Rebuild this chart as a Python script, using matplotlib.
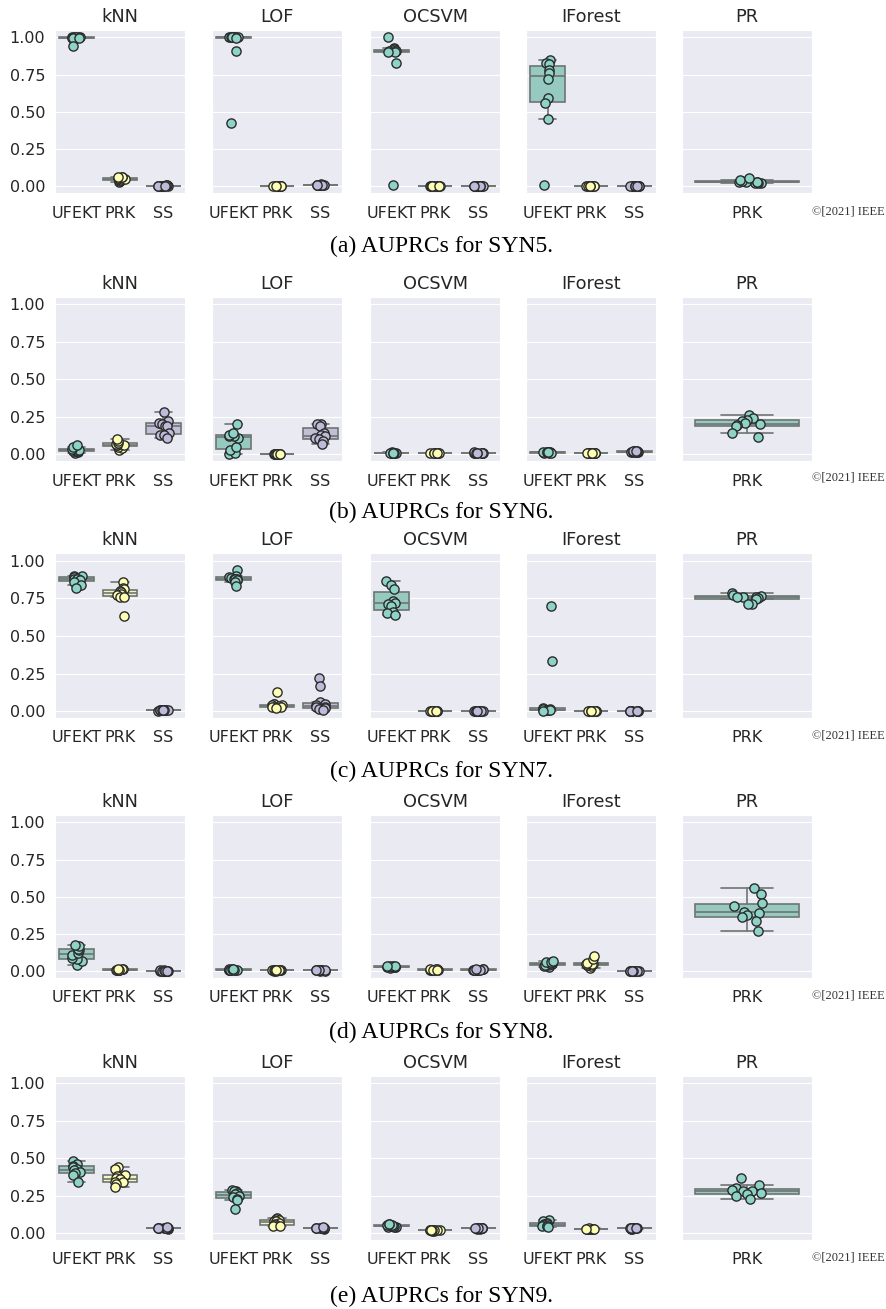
import numpy as np
import matplotlib
matplotlib.use("Agg")
import matplotlib.pyplot as plt
import seaborn as sns

sns.set_style("darkgrid")
plt.rcParams["font.family"] = ["DejaVu Sans"]

METHODS = ["UFEKT", "PRK", "SS"]
DETECTORS = ["kNN", "LOF", "OCSVM", "IForest"]
DATASETS = ["SYN5", "SYN6", "SYN7", "SYN8", "SYN9"]
LETTERS = ["a", "b", "c", "d", "e"]
YTICKS = [0.0, 0.25, 0.5, 0.75, 1.0]

# ---- SYN5 ----
SYN5_KNN = {"UFEKT": [1.0, 1.0, 1.0, 1.0, 0.999, 0.998, 1.0, 0.997, 0.995, 0.944],
            "PRK": [0.03, 0.035, 0.04, 0.045, 0.05, 0.05, 0.055, 0.06, 0.06, 0.065],
            "SS": [0.003, 0.004, 0.005, 0.005, 0.006, 0.004, 0.005, 0.006, 0.005, 0.004]}
SYN5_LOF = {"UFEKT": [1.0, 1.0, 1.0, 1.0, 1.0, 1.0, 1.0, 0.999, 0.906, 0.425],
            "PRK": [0.002, 0.003, 0.002, 0.003, 0.004, 0.002, 0.003, 0.002, 0.003, 0.004],
            "SS": [0.008, 0.01, 0.012, 0.01, 0.009, 0.011, 0.013, 0.01, 0.008, 0.012]}
SYN5_OCSVM = {"UFEKT": [1.0, 0.93, 0.92, 0.915, 0.91, 0.91, 0.905, 0.90, 0.83, 0.01],
              "PRK": [0.001, 0.002, 0.002, 0.003, 0.002, 0.001, 0.002, 0.003, 0.002, 0.002],
              "SS": [0.002, 0.003, 0.003, 0.004, 0.003, 0.002, 0.003, 0.004, 0.003, 0.003]}
SYN5_IFOREST = {"UFEKT": [0.85, 0.83, 0.82, 0.78, 0.76, 0.72, 0.59, 0.56, 0.45, 0.01],
                "PRK": [0.001, 0.002, 0.002, 0.003, 0.002, 0.001, 0.002, 0.003, 0.002, 0.002],
                "SS": [0.002, 0.003, 0.003, 0.004, 0.003, 0.002, 0.003, 0.004, 0.003, 0.003]}
SYN5_PR = [0.02, 0.022, 0.025, 0.028, 0.03, 0.03, 0.032, 0.035, 0.04, 0.055]

# ---- SYN6 ----
SYN6_KNN = {"UFEKT": [0.01, 0.015, 0.02, 0.02, 0.025, 0.03, 0.03, 0.035, 0.05, 0.06],
            "PRK": [0.03, 0.04, 0.05, 0.06, 0.06, 0.065, 0.07, 0.075, 0.09, 0.10],
            "SS": [0.28, 0.22, 0.21, 0.20, 0.19, 0.19, 0.14, 0.13, 0.13, 0.11]}
SYN6_LOF = {"UFEKT": [0.005, 0.008, 0.03, 0.05, 0.11, 0.12, 0.12, 0.13, 0.14, 0.20],
            "PRK": [0.002, 0.003, 0.003, 0.004, 0.003, 0.002, 0.003, 0.004, 0.003, 0.003],
            "SS": [0.20, 0.20, 0.19, 0.14, 0.13, 0.12, 0.11, 0.10, 0.09, 0.07]}
SYN6_OCSVM = {"UFEKT": [0.008, 0.009, 0.01, 0.01, 0.011, 0.012, 0.01, 0.009, 0.011, 0.01],
              "PRK": [0.008, 0.009, 0.01, 0.01, 0.011, 0.01, 0.009, 0.01, 0.011, 0.01],
              "SS": [0.008, 0.009, 0.01, 0.01, 0.011, 0.012, 0.01, 0.009, 0.011, 0.01]}
SYN6_IFOREST = {"UFEKT": [0.01, 0.011, 0.012, 0.012, 0.013, 0.012, 0.011, 0.013, 0.012, 0.012],
                "PRK": [0.006, 0.007, 0.008, 0.008, 0.009, 0.008, 0.007, 0.009, 0.008, 0.008],
                "SS": [0.012, 0.014, 0.016, 0.018, 0.02, 0.022, 0.015, 0.017, 0.019, 0.025]}
SYN6_PR = [0.265, 0.24, 0.23, 0.22, 0.21, 0.20, 0.195, 0.19, 0.14, 0.115]

# ---- SYN7 ----
SYN7_KNN = {"UFEKT": [0.90, 0.90, 0.89, 0.88, 0.88, 0.875, 0.87, 0.86, 0.84, 0.82],
            "PRK": [0.86, 0.82, 0.81, 0.80, 0.79, 0.78, 0.77, 0.76, 0.755, 0.63],
            "SS": [0.004, 0.005, 0.006, 0.006, 0.007, 0.005, 0.006, 0.007, 0.006, 0.005]}
SYN7_LOF = {"UFEKT": [0.94, 0.90, 0.89, 0.885, 0.88, 0.88, 0.875, 0.87, 0.86, 0.83],
            "PRK": [0.13, 0.05, 0.045, 0.04, 0.04, 0.035, 0.03, 0.03, 0.025, 0.02],
            "SS": [0.22, 0.17, 0.06, 0.05, 0.04, 0.03, 0.025, 0.02, 0.015, 0.01]}
SYN7_OCSVM = {"UFEKT": [0.865, 0.84, 0.81, 0.73, 0.72, 0.71, 0.70, 0.66, 0.65, 0.64],
              "PRK": [0.002, 0.003, 0.003, 0.004, 0.003, 0.002, 0.003, 0.004, 0.003, 0.003],
              "SS": [0.002, 0.003, 0.003, 0.004, 0.003, 0.002, 0.003, 0.004, 0.003, 0.003]}
SYN7_IFOREST = {"UFEKT": [0.70, 0.33, 0.02, 0.015, 0.012, 0.01, 0.008, 0.006, 0.005, 0.004],
                "PRK": [0.002, 0.003, 0.003, 0.004, 0.003, 0.002, 0.003, 0.004, 0.003, 0.003],
                "SS": [0.002, 0.003, 0.003, 0.004, 0.003, 0.002, 0.003, 0.004, 0.003, 0.003]}
SYN7_PR = [0.784, 0.77, 0.765, 0.76, 0.76, 0.755, 0.75, 0.745, 0.71, 0.71]

# ---- SYN8 ----
SYN8_KNN = {"UFEKT": [0.04, 0.07, 0.08, 0.09, 0.11, 0.125, 0.14, 0.15, 0.17, 0.18],
            "PRK": [0.01, 0.011, 0.012, 0.012, 0.013, 0.012, 0.011, 0.013, 0.012, 0.014],
            "SS": [0.004, 0.005, 0.005, 0.006, 0.005, 0.004, 0.005, 0.006, 0.005, 0.005]}
SYN8_LOF = {"UFEKT": [0.01, 0.011, 0.012, 0.012, 0.013, 0.012, 0.011, 0.013, 0.012, 0.014],
            "PRK": [0.005, 0.006, 0.006, 0.007, 0.006, 0.005, 0.006, 0.007, 0.006, 0.006],
            "SS": [0.005, 0.006, 0.006, 0.007, 0.006, 0.005, 0.006, 0.007, 0.006, 0.006]}
SYN8_OCSVM = {"UFEKT": [0.025, 0.028, 0.03, 0.03, 0.031, 0.032, 0.033, 0.034, 0.035, 0.036],
              "PRK": [0.008, 0.01, 0.011, 0.012, 0.012, 0.013, 0.014, 0.015, 0.012, 0.011],
              "SS": [0.01, 0.011, 0.012, 0.012, 0.013, 0.012, 0.011, 0.013, 0.012, 0.014]}
SYN8_IFOREST = {"UFEKT": [0.03, 0.035, 0.04, 0.045, 0.05, 0.05, 0.055, 0.06, 0.065, 0.07],
                "PRK": [0.025, 0.035, 0.04, 0.045, 0.048, 0.05, 0.052, 0.055, 0.08, 0.10],
                "SS": [0.003, 0.004, 0.004, 0.005, 0.004, 0.003, 0.004, 0.005, 0.004, 0.004]}
SYN8_PR = [0.56, 0.52, 0.46, 0.44, 0.40, 0.395, 0.38, 0.362, 0.34, 0.27]

# ---- SYN9 ----
SYN9_KNN = {"UFEKT": [0.48, 0.46, 0.45, 0.44, 0.43, 0.42, 0.41, 0.40, 0.39, 0.34],
            "PRK": [0.44, 0.43, 0.39, 0.38, 0.37, 0.36, 0.345, 0.34, 0.33, 0.31],
            "SS": [0.03, 0.032, 0.034, 0.035, 0.035, 0.036, 0.036, 0.037, 0.038, 0.04]}
SYN9_LOF = {"UFEKT": [0.29, 0.285, 0.28, 0.27, 0.26, 0.25, 0.24, 0.23, 0.22, 0.16],
            "PRK": [0.10, 0.095, 0.09, 0.085, 0.08, 0.07, 0.06, 0.055, 0.05, 0.05],
            "SS": [0.03, 0.032, 0.034, 0.035, 0.035, 0.036, 0.036, 0.037, 0.038, 0.04]}
SYN9_OCSVM = {"UFEKT": [0.04, 0.042, 0.045, 0.048, 0.05, 0.052, 0.055, 0.058, 0.06, 0.065],
              "PRK": [0.016, 0.018, 0.019, 0.02, 0.02, 0.021, 0.022, 0.02, 0.019, 0.021],
              "SS": [0.03, 0.031, 0.032, 0.033, 0.033, 0.034, 0.034, 0.035, 0.033, 0.032]}
SYN9_IFOREST = {"UFEKT": [0.09, 0.085, 0.07, 0.06, 0.06, 0.055, 0.05, 0.05, 0.048, 0.045],
                "PRK": [0.026, 0.028, 0.029, 0.03, 0.03, 0.031, 0.032, 0.03, 0.029, 0.031],
                "SS": [0.03, 0.031, 0.032, 0.033, 0.033, 0.034, 0.034, 0.035, 0.033, 0.032]}
SYN9_PR = [0.37, 0.32, 0.30, 0.29, 0.285, 0.28, 0.27, 0.26, 0.25, 0.23]

ROWS = [
    [SYN5_KNN, SYN5_LOF, SYN5_OCSVM, SYN5_IFOREST, SYN5_PR],
    [SYN6_KNN, SYN6_LOF, SYN6_OCSVM, SYN6_IFOREST, SYN6_PR],
    [SYN7_KNN, SYN7_LOF, SYN7_OCSVM, SYN7_IFOREST, SYN7_PR],
    [SYN8_KNN, SYN8_LOF, SYN8_OCSVM, SYN8_IFOREST, SYN8_PR],
    [SYN9_KNN, SYN9_LOF, SYN9_OCSVM, SYN9_IFOREST, SYN9_PR],
]

# ---- layout (pixels) ----
W, H = 886, 1309
ROW_TOP = [30, 297, 553, 815, 1076]
ROW_BOT = [193, 461, 718, 978, 1240]
COL_LEFT = [55, 212, 370, 526, 682]
COL_W = 130
CAP_Y = [246, 512, 771, 1032, 1296]
COPY_Y = [212, 478, 735, 996, 1258]

PAL = sns.color_palette("Set3", 3)
BOX_PAL = [sns.desaturate(c, 0.75) for c in PAL]
LINE = "#6e7573"

fig = plt.figure(figsize=(W / 100, H / 100), dpi=100)
rng = np.random.default_rng(3)


def draw(ax, groups, colors, boxcolors):
    n = len(groups)
    pos = np.arange(n)
    bp = ax.boxplot(groups, positions=pos, widths=0.8, patch_artist=True,
                    showfliers=False, whis=1.5,
                    boxprops=dict(linewidth=1.2, edgecolor=LINE),
                    medianprops=dict(color=LINE, linewidth=1.2),
                    whiskerprops=dict(color=LINE, linewidth=1.2),
                    capprops=dict(color=LINE, linewidth=1.2), zorder=2)
    for patch, c in zip(bp["boxes"], boxcolors):
        patch.set_facecolor(c)
    for i, g in enumerate(groups):
        g = np.asarray(g)
        xj = pos[i] + rng.uniform(-0.12, 0.12, len(g))
        ax.scatter(xj, g, s=44, color=colors[i], edgecolor="#2b2b2b",
                   linewidth=1.0, zorder=3)


for r in range(5):
    for c in range(5):
        left = COL_LEFT[c] / W
        bottom = 1 - ROW_BOT[r] / H
        height = (ROW_BOT[r] - ROW_TOP[r]) / H
        ax = fig.add_axes([left, bottom, COL_W / W, height])
        data = ROWS[r][c]
        if c < 4:
            groups = [data[m] for m in METHODS]
            draw(ax, groups, PAL, BOX_PAL)
            ax.set_xticks(range(3))
            ax.set_xticklabels(METHODS)
            ax.set_xlim(-0.5, 2.5)
            ax.set_title(DETECTORS[c], fontsize=12.8, color="#262626")
        else:
            draw(ax, [data], PAL[:1], BOX_PAL[:1])
            ax.set_xticks([0])
            ax.set_xticklabels(["PRK"])
            ax.set_xlim(-0.5, 0.5)
            ax.set_title("PR", fontsize=12.8, color="#262626")
        ax.set_ylim(-0.045, 1.05)
        ax.set_yticks(YTICKS)
        if c == 0:
            ax.set_yticklabels([f"{v:.2f}" for v in YTICKS])
        else:
            ax.set_yticklabels([])
        ax.tick_params(axis="y", length=0, pad=7, labelsize=11.5,
                       labelcolor="#262626")
        ax.tick_params(axis="x", length=0, pad=9, labelsize=11.5,
                       labelcolor="#262626")
        ax.grid(axis="x", visible=False)
        ax.set_axisbelow(True)

    fig.text(441 / W, 1 - CAP_Y[r] / H,
             f"({LETTERS[r]}) AUPRCs for {DATASETS[r]}.",
             ha="center", va="center", fontsize=17,
             family=["Liberation Serif", "DejaVu Serif"], color="black")
    fig.text(812 / W, 1 - COPY_Y[r] / H, "\u00a9[2021] IEEE",
             ha="left", va="center", fontsize=9,
             family=["Liberation Serif", "DejaVu Serif"], color="#333333")

fig.savefig("out.png", dpi=100)
